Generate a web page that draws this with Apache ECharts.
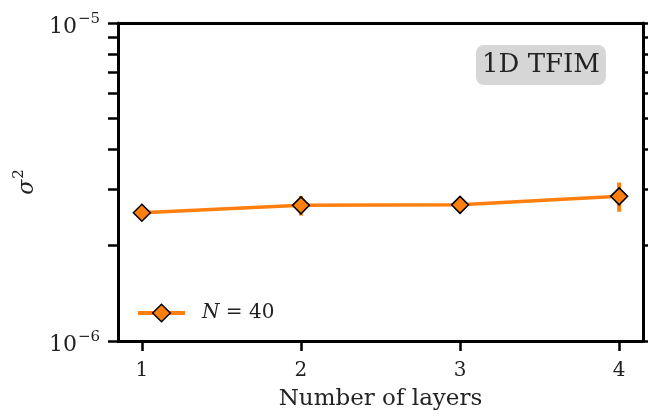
<!DOCTYPE html>
<html>
<head>
<meta charset="utf-8">
<script src="https://cdn.jsdelivr.net/npm/echarts@6/dist/echarts.min.js"></script>
<style>html,body{margin:0;padding:0;background:#fff}#c{width:648px;height:416px}</style>
</head>
<body>
<div id="c"></div>
<script>
const layers = [1, 2, 3, 4];
const sigma2 = [2.53e-6, 2.67e-6, 2.68e-6, 2.85e-6];
const sigma2Err = [0.08e-6, 0.19e-6, 0.15e-6, 0.30e-6];
const xTicks = [1, 2, 3, 4];
const yTicks = [1e-6, 2e-6, 3e-6, 4e-6, 5e-6, 6e-6, 7e-6, 8e-6, 9e-6, 1e-5];
const yLabels = [1e-6, 1e-5];
const seriesName = 'N = 40';
const boxText = '1D TFIM';

const FONT = 'DejaVu Serif';
const ORANGE = '#ff7f0e';

const chart = echarts.init(document.getElementById('c'), null, {renderer: 'canvas'});

const pointData = layers.map((x, i) => [x, sigma2[i]]);
const errData = layers.map((x, i) => [x, sigma2[i] - sigma2Err[i], sigma2[i] + sigma2Err[i]]);

const axisLine = {show: true, onZero: false, lineStyle: {color: '#000', width: 3}};
const tickStyle = {lineStyle: {color: '#000', width: 2.5}};

function powLabel(v) {
  const e = Math.round(Math.log10(v));
  return '{b|10}{s|' + (e < 0 ? '\u2212' : '') + Math.abs(e) + '}';
}
const powRich = {
  b: {fontFamily: FONT, fontSize: 22, color: '#222', verticalAlign: 'bottom', lineHeight: 30},
  s: {fontFamily: FONT, fontSize: 15, color: '#222', verticalAlign: 'bottom', lineHeight: 30, padding: [0, 0, 11, 1]}
};

chart.setOption({
  animation: false,
  backgroundColor: '#fff',
  grid: {left: 118, right: 5, top: 23, bottom: 72, containLabel: false},
  title: {
    text: boxText,
    left: 476, top: 45,
    backgroundColor: '#d6d6d6',
    borderRadius: 8,
    padding: [7, 6, 7, 6],
    textStyle: {fontFamily: FONT, fontSize: 26, fontWeight: 'normal', color: '#222'}
  },
  legend: {
    left: 136, top: 303, padding: 0,
    itemWidth: 47, itemHeight: 22,
    data: [seriesName],
    lineStyle: {width: 4, color: ORANGE},
    itemStyle: {color: ORANGE, borderColor: '#000', borderWidth: 1.5},
    formatter: () => '{i|N} = 40',
    textStyle: {
      fontFamily: FONT, fontSize: 20, color: '#222', padding: [0, 0, 0, 12],
      rich: {i: {fontFamily: FONT, fontSize: 20, fontStyle: 'italic', color: '#222'}}
    }
  },
  xAxis: [{
    type: 'value', min: 0.85, max: 4.15, position: 'bottom',
    name: 'Number of layers', nameLocation: 'middle', nameGap: 47,
    nameTextStyle: {fontFamily: FONT, fontSize: 23, color: '#222'},
    axisLine: axisLine,
    axisTick: Object.assign({show: true, inside: false, length: 10, customValues: xTicks}, tickStyle),
    axisLabel: {show: true, margin: 20, customValues: xTicks, fontFamily: FONT, fontSize: 20, color: '#222'},
    splitLine: {show: false}
  }, {
    type: 'value', min: 0.85, max: 4.15, position: 'top',
    axisLine: axisLine, axisTick: {show: false}, axisLabel: {show: false}, splitLine: {show: false}
  }],
  yAxis: [{
    type: 'log', logBase: 10, min: 1e-6, max: 1e-5, position: 'left',
    name: '{g|\u03c3}{p|2}', nameLocation: 'middle', nameGap: 78, nameRotate: 90,
    nameTextStyle: {
      rich: {
        g: {fontFamily: FONT, fontSize: 22, fontStyle: 'italic', color: '#222', verticalAlign: 'bottom', lineHeight: 30},
        p: {fontFamily: FONT, fontSize: 15, color: '#222', verticalAlign: 'bottom', lineHeight: 30, padding: [0, 0, 11, 1]}
      }
    },
    axisLine: axisLine,
    axisTick: Object.assign({show: true, inside: false, length: 10, customValues: yTicks}, tickStyle),
    minorTick: {show: false},
    axisLabel: {show: true, margin: 18, customValues: yLabels, formatter: powLabel, rich: powRich},
    splitLine: {show: false}
  }, {
    type: 'log', logBase: 10, min: 1e-6, max: 1e-5, position: 'right',
    axisLine: axisLine,
    axisTick: Object.assign({show: true, inside: false, length: 10, customValues: yTicks}, tickStyle),
    axisLabel: {show: false},
    splitLine: {show: false}
  }],
  series: [{
    type: 'line',
    name: seriesName,
    xAxisIndex: 0, yAxisIndex: 0,
    z: 3,
    data: pointData,
    symbol: 'diamond',
    symbolSize: 17,
    lineStyle: {color: ORANGE, width: 3.5},
    itemStyle: {color: ORANGE, borderColor: '#000', borderWidth: 1.5}
  }, {
    type: 'custom',
    name: 'errorbars',
    xAxisIndex: 0, yAxisIndex: 0,
    z: 1,
    data: errData,
    renderItem: function (params, api) {
      const lo = api.coord([api.value(0), api.value(1)]);
      const hi = api.coord([api.value(0), api.value(2)]);
      return {
        type: 'line',
        shape: {x1: lo[0], y1: lo[1], x2: hi[0], y2: hi[1]},
        style: {stroke: ORANGE, lineWidth: 4}
      };
    },
    encode: {x: 0, y: [1, 2]},
    silent: true
  }]
});
</script>
</body>
</html>
